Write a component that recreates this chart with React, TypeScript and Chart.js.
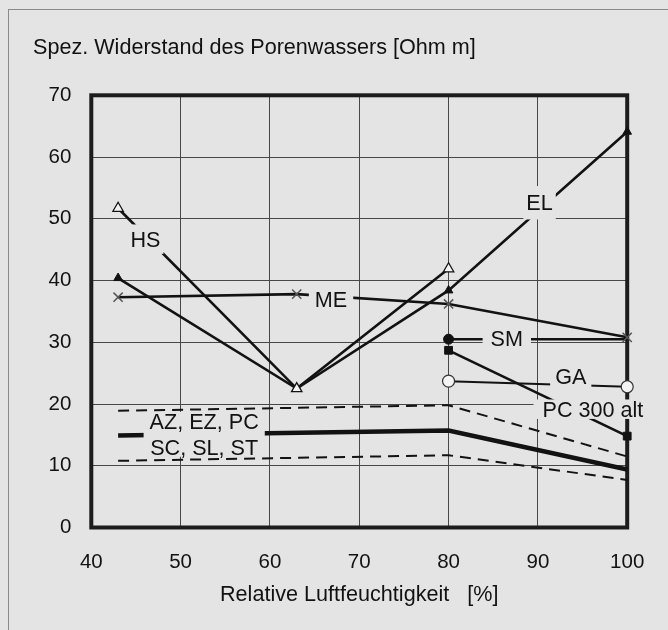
import React, { useEffect, useRef } from "react";
import { Chart, registerables } from "chart.js";

Chart.register(...registerables);

// ---- data ----
const humidity = [43, 63, 80, 100];
const hs = [51.7, 22.5, 41.9, null];
const el = [40.4, 22.5, 38.4, 64.1];
const me = [37.3, 37.8, 36.2, 30.8];
const sm = [null, null, 30.5, 30.5];
const ga = [null, null, 23.7, 22.8];
const pc300 = [null, null, 28.7, 14.8];
const azMean = [14.9, null, 15.7, 9.4];
const azUpper = [18.9, null, 19.8, 11.5];
const azLower = [10.8, null, 11.7, 7.7];

const xTicks = [40, 50, 60, 70, 80, 90, 100];
const yTicks = [0, 10, 20, 30, 40, 50, 60, 70];

const yTitle = "Spez. Widerstand des Porenwassers [Ohm m]";
const xTitle = "Relative Luftfeuchtigkeit   [%]";

// series labels (text, anchor in data units)
const labelTexts = ["HS", "EL", "ME", "SM", "GA", "PC 300 alt", "AZ, EZ, PC\nSC, SL, ST"];
const labelX = [46.07, 90.19, 66.84, 86.52, 93.68, 96.16, 52.64];
const labelY = [46.7, 52.6, 36.93, 30.64, 24.42, 19.16, 15.09];

// ---- styles ----
const BG = "#e4e4e4";
const INK = "#121212";
const FONT_FAMILY = "'Liberation Sans', Arial, Helvetica, sans-serif";
const TEXT_SIZE = 21.6;
const TICK_SIZE = 20.5;
const labelPadX = [3, 3, 6, 8, 5, 9, 6];
const labelPadY = [7, 9, 5, 5, 3, 2, 2];

function pts(ys: (number | null)[]) {
  const out: { x: number; y: number }[] = [];
  humidity.forEach((x, i) => {
    const y = ys[i];
    if (y !== null && y !== undefined) out.push({ x, y });
  });
  return out;
}

const decorPlugin = {
  id: "decor",
  beforeDraw(chart: any) {
    const ctx = chart.ctx;
    ctx.save();
    ctx.fillStyle = BG;
    ctx.fillRect(0, 0, chart.width, chart.height);
    ctx.strokeStyle = "#8a8a8a";
    ctx.lineWidth = 1;
    ctx.strokeRect(8.5, 9.5, chart.width + 20, chart.height + 20);
    ctx.fillStyle = INK;
    ctx.font = `${TEXT_SIZE}px ${FONT_FAMILY}`;
    ctx.textBaseline = "alphabetic";
    ctx.textAlign = "left";
    ctx.fillText(yTitle, 33, 54);
    ctx.restore();
  },
  beforeDatasetsDraw(chart: any) {
    const { ctx, chartArea } = chart;
    ctx.save();
    ctx.strokeStyle = "#1c1c1c";
    ctx.lineWidth = 4;
    ctx.strokeRect(chartArea.left, chartArea.top, chartArea.right - chartArea.left, chartArea.bottom - chartArea.top);
    ctx.restore();
  },
  afterDatasetsDraw(chart: any) {
    const ctx = chart.ctx;
    const xs = chart.scales.x;
    const ys = chart.scales.y;
    ctx.save();
    ctx.font = `${TEXT_SIZE}px ${FONT_FAMILY}`;
    ctx.textAlign = "center";
    ctx.textBaseline = "alphabetic";
    const capH = 0.716 * TEXT_SIZE;
    const lineGap = 25.3;
    labelTexts.forEach((t, i) => {
      const lines = t.split("\n");
      const cx = xs.getPixelForValue(labelX[i]);
      const cy = ys.getPixelForValue(labelY[i]);
      const firstCenter = cy - ((lines.length - 1) * lineGap) / 2;
      const w = Math.max(...lines.map((l) => ctx.measureText(l).width));
      const top = firstCenter - capH / 2 - labelPadY[i];
      const bottom = firstCenter + (lines.length - 1) * lineGap + capH / 2 + labelPadY[i];
      ctx.fillStyle = BG;
      ctx.fillRect(cx - w / 2 - labelPadX[i], top, w + 2 * labelPadX[i], bottom - top);
      ctx.fillStyle = INK;
      lines.forEach((l, j) => {
        ctx.fillText(l, cx, firstCenter + j * lineGap + capH / 2);
      });
    });
    ctx.restore();
  },
};

export default function App() {
  const ref = useRef<HTMLCanvasElement>(null);
  useEffect(() => {
    const canvas = ref.current;
    if (!canvas) return;
    const line = { showLine: true, clip: false, borderColor: INK, borderWidth: 2.6, pointBorderColor: INK };
    const chart = new Chart(canvas, {
      type: "scatter",
      data: {
        datasets: [
          { ...line, label: "HS", data: pts(hs), pointStyle: "triangle", pointRadius: 6, pointBackgroundColor: "#f4f4f4", pointBorderWidth: 1.3 },
          { ...line, label: "EL", data: pts(el), pointStyle: "triangle", pointRadius: 5, pointBackgroundColor: INK, pointBorderWidth: 1 },
          { ...line, label: "ME", data: pts(me), pointStyle: "crossRot", pointRadius: 6.5, pointBorderColor: "#555", pointBorderWidth: 1.5 },
          { ...line, label: "SM", data: pts(sm), pointStyle: "circle", pointRadius: [5, 0], pointBackgroundColor: INK, pointBorderWidth: 1 },
          { ...line, label: "GA", data: pts(ga), pointStyle: "circle", pointRadius: 6, pointBackgroundColor: "#f4f4f4", pointBorderColor: "#333", pointBorderWidth: 1.2, borderWidth: 2 },
          { ...line, label: "PC 300 alt", data: pts(pc300), pointStyle: "rect", pointRadius: 5.5, pointBackgroundColor: INK, pointBorderWidth: 1 },
          { ...line, label: "AZ", data: pts(azMean), pointRadius: 0, borderWidth: 4.5 },
          { ...line, label: "AZ max", data: pts(azUpper), pointRadius: 0, borderWidth: 2, borderDash: [11, 7] },
          { ...line, label: "AZ min", data: pts(azLower), pointRadius: 0, borderWidth: 2, borderDash: [11, 7] },
        ],
      },
      options: {
        responsive: false,
        animation: false,
        devicePixelRatio: 1,
        layout: { padding: { top: 95.3, right: 40.8, bottom: 0, left: 0 } },
        plugins: { legend: { display: false }, tooltip: { enabled: false }, title: { display: false } },
        scales: {
          x: {
            type: "linear",
            min: 40,
            max: 100,
            afterBuildTicks: (s: any) => {
              s.ticks = xTicks.map((v) => ({ value: v }));
            },
            afterFit: (s: any) => {
              s.height = 102.5;
            },
            grid: { color: "#474747", lineWidth: 1, drawTicks: false },
            border: { display: false },
            ticks: { padding: 22.5, color: INK, font: { family: FONT_FAMILY, size: TICK_SIZE }, maxRotation: 0 },
            title: { display: true, text: xTitle, color: INK, font: { family: FONT_FAMILY, size: TEXT_SIZE }, padding: { top: 0, bottom: 21.6 } },
          },
          y: {
            type: "linear",
            min: 0,
            max: 70,
            afterBuildTicks: (s: any) => {
              s.ticks = yTicks.map((v) => ({ value: v }));
            },
            afterFit: (s: any) => {
              s.width = 91.3;
            },
            grid: { color: "#474747", lineWidth: 1, drawTicks: false },
            border: { display: false },
            ticks: { padding: 20, color: INK, font: { family: FONT_FAMILY, size: TICK_SIZE } },
          },
        },
      },
      plugins: [decorPlugin],
    } as any);
    return () => chart.destroy();
  }, []);
  return (
    <div style={{ position: "absolute", left: 0, top: 0, width: 668, height: 630 }}>
      <canvas ref={ref} width={668} height={630} style={{ display: "block", width: 668, height: 630 }} />
    </div>
  );
}
